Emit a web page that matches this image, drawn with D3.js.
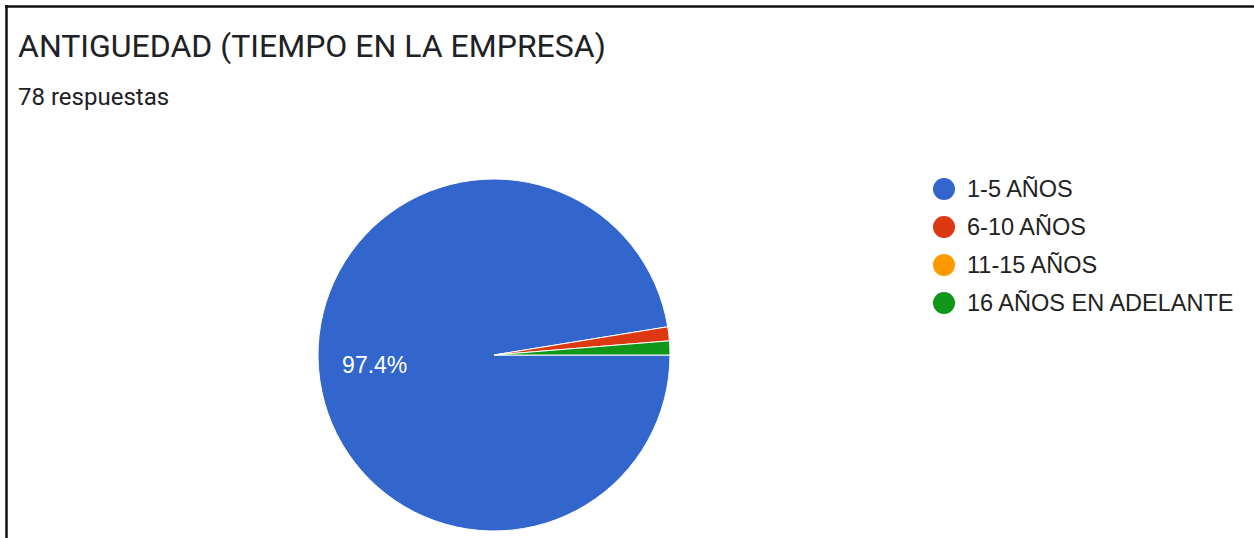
<!DOCTYPE html>
<html>
<head>
<meta charset="utf-8">
<script src="https://cdn.jsdelivr.net/npm/d3@7"></script>
<style>
  body { margin: 0; background: #fff; }
  svg { display: block; }
</style>
</head>
<body>
<svg id="chart" width="1254" height="538"></svg>
<script>
// data (78 respuestas)
const categories = ['1-5 AÑOS', '6-10 AÑOS', '11-15 AÑOS', '16 AÑOS EN ADELANTE'];
const counts = [76, 1, 0, 1];
const colors = ['#3366cc', '#dc3912', '#ff9900', '#109618'];
const title = 'ANTIGUEDAD (TIEMPO EN LA EMPRESA)';
const subtitle = '78 respuestas';

const width = 1254, height = 538;
const cx = 494, cy = 355, radius = 176;

const svg = d3.select('#chart');

// frame (top + left edges only)
svg.append('line').attr('x1', 5).attr('y1', 6.5).attr('x2', width).attr('y2', 6.5)
  .attr('stroke', '#111').attr('stroke-width', 2.5);
svg.append('line').attr('x1', 6.5).attr('y1', 5).attr('x2', 6.5).attr('y2', height)
  .attr('stroke', '#111').attr('stroke-width', 2.5);

svg.append('text')
  .attr('x', 18).attr('y', 57)
  .attr('font-family', 'Roboto, sans-serif')
  .attr('font-size', 32)
  .attr('fill', '#202124')
  .text(title);

svg.append('text')
  .attr('x', 18).attr('y', 105)
  .attr('font-family', 'Roboto, sans-serif')
  .attr('font-size', 24)
  .attr('fill', '#202124')
  .text(subtitle);

const total = d3.sum(counts);
const rows = categories.map((c, i) => ({ name: c, value: counts[i], color: colors[i] }));

const pie = d3.pie()
  .value(d => d.value)
  .sort(null)
  .startAngle(Math.PI / 2)
  .endAngle(Math.PI / 2 + 2 * Math.PI);

const arc = d3.arc().innerRadius(0).outerRadius(radius);
const labelArc = d3.arc().innerRadius(radius * 0.68).outerRadius(radius * 0.68);

const g = svg.append('g').attr('transform', `translate(${cx},${cy})`);

const arcs = pie(rows);

g.selectAll('path')
  .data(arcs.filter(d => d.data.value > 0))
  .enter()
  .append('path')
  .attr('d', arc)
  .attr('fill', d => d.data.color)
  .attr('stroke', '#fff')
  .attr('stroke-width', 1);

// only the big slice gets a label, like the original
g.selectAll('.pct')
  .data(arcs.filter(d => d.data.value / total > 0.05))
  .enter()
  .append('text')
  .attr('class', 'pct')
  .attr('transform', d => `translate(${labelArc.centroid(d)})`)
  .attr('text-anchor', 'middle')
  .attr('dy', '0.35em')
  .attr('font-family', 'Arial, "Liberation Sans", sans-serif')
  .attr('font-size', 23)
  .attr('fill', '#fff')
  .text(d => (d.data.value / total * 100).toFixed(1) + '%');

// legend
const legend = svg.append('g').attr('transform', 'translate(944,189)');
const item = legend.selectAll('g')
  .data(rows)
  .enter()
  .append('g')
  .attr('transform', (d, i) => `translate(0,${i * 38})`);

item.append('circle')
  .attr('r', 11)
  .attr('fill', d => d.color);

item.append('text')
  .attr('x', 23)
  .attr('dy', '0.35em')
  .attr('font-family', 'Arial, "Liberation Sans", sans-serif')
  .attr('font-size', 23.5)
  .attr('fill', '#222')
  .text(d => d.name);
</script>
</body>
</html>
